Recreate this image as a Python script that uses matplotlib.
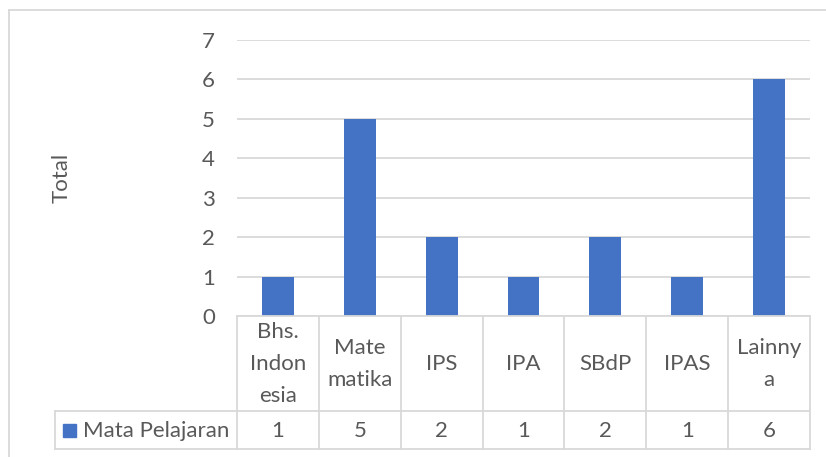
import matplotlib
matplotlib.use("Agg")
import matplotlib.pyplot as plt
from matplotlib.lines import Line2D
from matplotlib.patches import Rectangle

categories = ["Bhs.\nIndon\nesia", "Mate\nmatika", "IPS", "IPA", "SBdP", "IPAS", "Lainny\na"]
values = [1, 5, 2, 1, 2, 1, 6]
series_name = "Mata Pelajaran"
y_ticks = [0, 1, 2, 3, 4, 5, 6, 7]
y_label = "Total"

W, H = 826, 457
DPI = 100
BAR = "#4472C4"
GRID = "#d9d9d9"
TXT = "#595959"
FONT = "Lato"
FS = 16

plt.rcParams["font.family"] = [FONT, "DejaVu Sans"]

fig = plt.figure(figsize=(W / DPI, H / DPI), dpi=DPI)

def fx(px):
    return px / W

def fy(py):
    return 1 - py / H

# outer chart border (left and top visible)
fig.add_artist(Line2D([fx(9), fx(9)], [fy(10), fy(H + 5)], color=GRID, lw=1.3,
                      transform=fig.transFigure))
fig.add_artist(Line2D([fx(9), fx(W + 5)], [fy(10), fy(10)], color=GRID, lw=1.3,
                      transform=fig.transFigure))

# main plot area
x0, x1, ytop, ybot = 237, 810, 40, 316
ax = fig.add_axes([fx(x0), fy(ybot), fx(x1) - fx(x0), fy(ytop) - fy(ybot)])
n = len(categories)
xs = list(range(n))
ax.bar(xs, values, width=0.39, color=BAR, zorder=3)
ax.set_xlim(-0.5, n - 0.5)
ax.set_ylim(0, 7)
ax.set_yticks(y_ticks)
ax.set_yticklabels([str(t) for t in y_ticks], fontsize=FS, color=TXT)
ax.tick_params(axis="y", length=0, pad=16)
ax.set_xticks([])
ax.grid(axis="y", color=GRID, lw=1.3, zorder=0)
for s in ax.spines.values():
    s.set_visible(False)
ax.set_facecolor("none")
fig.text(fx(62), fy(178), y_label, rotation=90, ha="center", va="center",
         fontsize=FS, color=TXT)

# data table
tl, tr, tt, tb = 55, 810, 316, 449
unit = (x1 - x0) / n
left_ext = (x0 - tl) / unit
tax = fig.add_axes([fx(tl), fy(tb), fx(tr) - fx(tl), fy(tt) - fy(tb)])
tax.set_xlim(-0.5 - left_ext, n - 0.5)
tax.set_ylim(tb, tt)
tax.axis("off")
row_split = 411
lw = 1.3
# vertical lines
for i in range(n + 1):
    xb = i - 0.5
    tax.plot([xb, xb], [tt, tb], color=GRID, lw=lw, clip_on=False)
tax.plot([-0.5 - left_ext] * 2, [row_split, tb], color=GRID, lw=lw, clip_on=False)
# horizontal lines
tax.plot([-0.5, n - 0.5], [tt, tt], color=GRID, lw=lw, clip_on=False)
tax.plot([-0.5 - left_ext, n - 0.5], [row_split, row_split], color=GRID, lw=lw, clip_on=False)
tax.plot([-0.5 - left_ext, n - 0.5], [tb, tb], color=GRID, lw=lw, clip_on=False)

hdr_y = (tt + row_split) / 2
val_y = (row_split + tb) / 2 + 0.5
for i, (c, v) in enumerate(zip(categories, values)):
    tax.text(i, hdr_y, c, ha="center", va="center", fontsize=FS, color=TXT,
             linespacing=1.75)
    tax.text(i, val_y, str(v), ha="center", va="center", fontsize=FS, color=TXT)

# legend key in table
lx = -0.5 - left_ext + 8 / unit
tax.add_patch(Rectangle((lx, 437), 13 / unit, -13, color=BAR, clip_on=False))
tax.text(lx + 20 / unit, val_y, series_name, ha="left", va="center",
         fontsize=FS, color=TXT)

fig.savefig("out.png", dpi=DPI)
